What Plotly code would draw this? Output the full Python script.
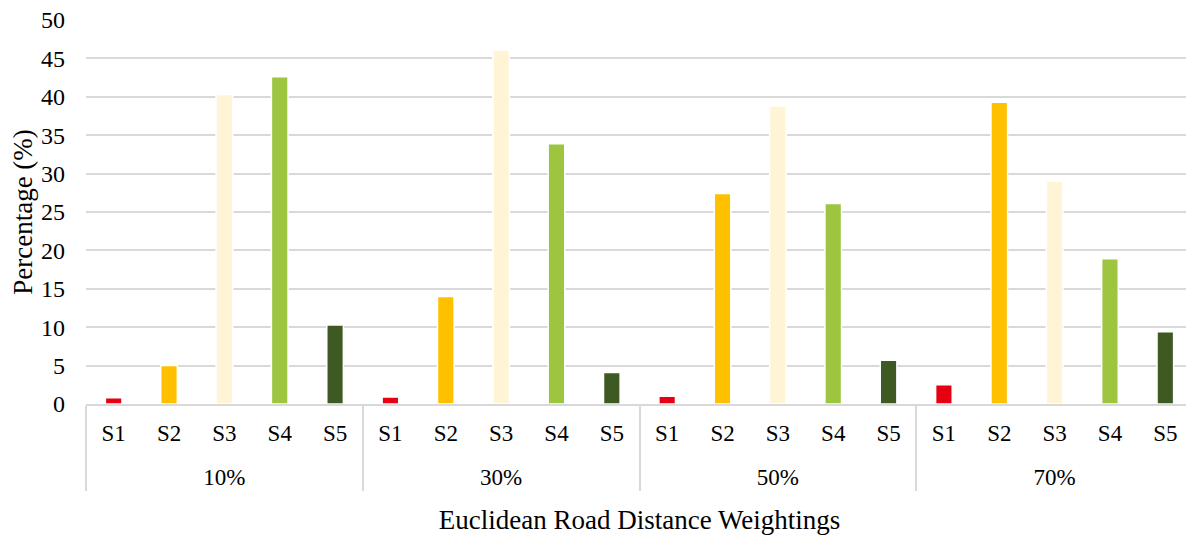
import plotly.graph_objects as go

groups = ["10%", "30%", "50%", "70%"]
series = ["S1", "S2", "S3", "S4", "S5"]
colors = ["#E60012", "#FFC000", "#FFF5D6", "#9DC53F", "#3E5A22"]

values = {
    "10%": [0.8, 5.0, 40.3, 42.6, 10.3],
    "30%": [0.9, 14.0, 46.1, 33.9, 4.1],
    "50%": [1.0, 27.4, 38.8, 26.1, 5.7],
    "70%": [2.5, 39.3, 29.0, 18.9, 9.4],
}

# inner labels get an (invisible) spacer line so the outer level sits lower, as in the reference
spacer = "<br><span style='font-size:1px'>&nbsp;</span>"

x_outer, x_inner, y, c = [], [], [], []
for g in groups:
    for i, s in enumerate(series):
        x_outer.append(g)
        x_inner.append(s + spacer)
        y.append(values[g][i])
        c.append(colors[i])

font_family = "Liberation Serif, Times New Roman, serif"

fig = go.Figure(go.Bar(
    x=[x_outer, x_inner],
    y=y,
    marker=dict(color=c, line=dict(color="white", width=1.5)),
    width=0.3,
    showlegend=False,
))

fig.update_layout(
    width=1186, height=527,
    margin=dict(l=78, r=1, t=12, b=131, autoexpand=False),
    paper_bgcolor="white", plot_bgcolor="white",
    font=dict(family=font_family, size=24, color="#000000"),
)
fig.update_yaxes(
    range=[0, 50], dtick=5, showgrid=True, gridcolor="#D9D9D9", gridwidth=1.5,
    zeroline=False, showline=False, ticks="", ticklabelstandoff=20,
    ticklabeloverflow="allow",
    title=dict(text="Percentage (%)", font=dict(size=27), standoff=6),
    tickfont=dict(size=24), automargin=False,
)
fig.update_xaxes(
    type="multicategory", showline=True, linecolor="#D9D9D9", linewidth=1.5,
    showdividers=True, dividercolor="#D9D9D9", dividerwidth=1.5,
    ticks="", tickfont=dict(size=23), automargin=False, ticklabelstandoff=8,
    title=dict(text="Euclidean Road Distance Weightings", font=dict(size=27), standoff=21),
)

fig.write_html("out.html")
